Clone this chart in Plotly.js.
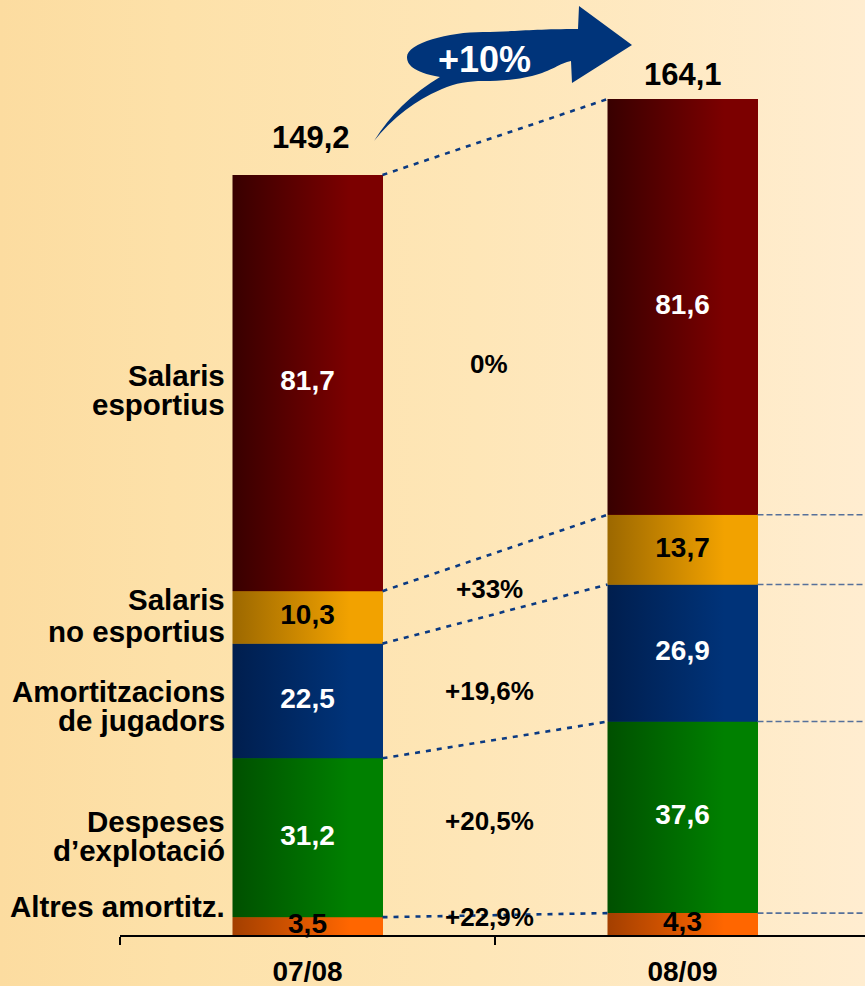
<!DOCTYPE html>
<html>
<head>
<meta charset="utf-8">
<script src="https://cdn.plot.ly/plotly-3.0.1.min.js"></script>
<style>
  html, body { margin: 0; padding: 0; }
  body {
    width: 865px; height: 986px; overflow: hidden;
    background: linear-gradient(to right, #FCDCA0 0%, #FDE1A9 20%, #FEE6B7 55%, #FFEDD0 100%);
  }
  #chart { width: 865px; height: 986px; }
</style>
</head>
<body>
<div id="chart"></div>
<script>
// ---- data ----
const categories = ['07/08', '08/09'];
const altresAmortitz = [3.5, 4.3];
const despesesExplotacio = [31.2, 37.6];
const amortitzacionsJugadors = [22.5, 26.9];
const salarisNoEsportius = [10.3, 13.7];
const salarisEsportius = [81.7, 81.6];
const totals = [149.2, 164.1];
const changeLabels = ['+22,9%', '+20,5%', '+19,6%', '+33%', '0%'];
const growthLabel = '+10%';
const seriesLabelLines = [
  ['Altres amortitz.'],
  ['Despeses', 'd’explotació'],
  ['Amortitzacions', 'de jugadors'],
  ['Salaris', 'no esportius'],
  ['Salaris', 'esportius']
];

// ---- styling ----
const series = [altresAmortitz, despesesExplotacio, amortitzacionsJugadors, salarisNoEsportius, salarisEsportius];
const darkColors = ['#A33F00', '#005000', '#001E4E', '#9C6800', '#380000'];
const brightColors = ['#FF6600', '#008000', '#003379', '#F2A200', '#7C0000'];
const textColors = ['#000000', '#FFFFFF', '#FFFFFF', '#000000', '#FFFFFF'];
const FONT = '"Liberation Sans", Arial, Helvetica, sans-serif';
const W = 0.4;
const xs = [0, 1];
const fmt = v => v.toFixed(1).replace('.', ',');

// cumulative bases/tops
const bases = [], tops = [];
series.forEach((s, k) => {
  bases.push(s.map((v, i) => k === 0 ? 0 : tops[k - 1][i]));
  tops.push(s.map((v, i) => bases[k][i] + v));
});

const traces = [];
// plain stacked bars (base layer)
series.forEach((s, k) => {
  traces.push({
    type: 'bar', x: xs, y: s, width: W, name: seriesLabelLines[k].join(' '),
    marker: { color: brightColors[k], line: { width: 0 } },
    hoverinfo: 'skip', showlegend: false
  });
});
// gradient overlays for each segment
series.forEach((s, k) => {
  xs.forEach(i => {
    const x0 = i - W / 2, x1 = i + W / 2;
    traces.push({
      type: 'scatter', mode: 'lines',
      x: [x0, x1, x1, x0, x0],
      y: [bases[k][i], bases[k][i], tops[k][i], tops[k][i], bases[k][i]],
      line: { width: 0, color: 'rgba(0,0,0,0)' },
      fill: 'toself',
      fillcolor: brightColors[k],
      fillgradient: { type: 'horizontal', colorscale: [[0, darkColors[k]], [0.78, brightColors[k]], [1, brightColors[k]]] },
      hoverinfo: 'skip', showlegend: false
    });
  });
});
// dotted connectors between bars
series.forEach((s, k) => {
  traces.push({
    type: 'scatter', mode: 'lines',
    x: [W / 2, 1 - W / 2], y: [tops[k][0], tops[k][1]],
    line: { color: '#0B3A82', width: 2.6, dash: '5px,6px' },
    hoverinfo: 'skip', showlegend: false
  });
});
// dashed lines to the right of second bar
series.slice(0, 4).forEach((s, k) => {
  traces.push({
    type: 'scatter', mode: 'lines',
    x: [1 + W / 2, 1.7], y: [tops[k][1], tops[k][1]],
    line: { color: '#56709A', width: 1.6, dash: '6px,3px' },
    hoverinfo: 'skip', showlegend: false
  });
});
// segment value labels
const tx = [], ty = [], tt = [], tc = [];
series.forEach((s, k) => {
  xs.forEach(i => {
    tx.push(i); ty.push((bases[k][i] + tops[k][i]) / 2);
    tt.push('<b>' + fmt(s[i]) + '</b>'); tc.push(textColors[k]);
  });
});
traces.push({
  type: 'scatter', mode: 'text', x: tx, y: ty, text: tt,
  textposition: 'middle center',
  textfont: { family: FONT, size: 28, color: tc },
  cliponaxis: false, hoverinfo: 'skip', showlegend: false
});

// ---- annotations ----
const annotations = [];
// totals
const totalShift = [37, 25];
totals.forEach((t, i) => {
  annotations.push({
    x: i, y: t, xref: 'x', yref: 'y', text: '<b>' + fmt(t) + '</b>',
    showarrow: false, yanchor: 'middle', yshift: totalShift[i], xshift: i === 0 ? 3 : 0,
    font: { family: FONT, size: 31, color: '#000000' }
  });
});
// series labels on the left
const labelShifts = [[20], [16, -13], [9, -20], [18, -14], [8, -21]];
seriesLabelLines.forEach((lines, k) => {
  const mid = (bases[k][0] + tops[k][0]) / 2;
  lines.forEach((ln, j) => {
    annotations.push({
      x: (227 - 120) / 745, xref: 'paper', y: mid, yref: 'y',
      text: '<b>' + ln + '</b>', showarrow: false,
      xanchor: 'right', yanchor: 'middle', yshift: labelShifts[k][j],
      font: { family: FONT, size: 29.5, color: '#000000' }
    });
  });
});
// change percentages between the bars
const changeShifts = [8, 7, -14, -5, -19];
changeLabels.forEach((lab, k) => {
  const mid = ((bases[k][0] + tops[k][0]) / 2 + (bases[k][1] + tops[k][1]) / 2) / 2;
  annotations.push({
    x: 0.5, xref: 'x', y: mid, yref: 'y', text: '<b>' + lab + '</b>',
    showarrow: false, xshift: -6, yshift: changeShifts[k], yanchor: 'middle',
    font: { family: FONT, size: 26, color: '#000000' }
  });
});

// growth arrow (decoration) drawn as a path in paper coordinates
const L = 120, PW = 745, PH = 935;
const P = (px, py) => ((px - L) / PW).toFixed(5) + ',' + ((PH - py) / PH).toFixed(5);
const arrowPath =
  'M' + P(374, 141) +
  ' Q' + P(398, 102) + ' ' + P(440, 77) +
  ' C' + P(412, 72) + ' ' + P(407, 64) + ' ' + P(407, 57) +
  ' C' + P(407, 43) + ' ' + P(449, 32) + ' ' + P(483, 32) +
  ' C' + P(510, 32) + ' ' + P(530, 29) + ' ' + P(578, 29) +
  ' L' + P(579, 6) +
  ' L' + P(632, 45) +
  ' L' + P(572, 83) +
  ' L' + P(571, 61) +
  ' C' + P(560, 63) + ' ' + P(552, 71) + ' ' + P(532, 76) +
  ' C' + P(515, 80) + ' ' + P(500, 81) + ' ' + P(483, 81) +
  ' C' + P(470, 81) + ' ' + P(455, 83) + ' ' + P(442, 89) +
  ' Q' + P(402, 106) + ' ' + P(374, 141) + ' Z';

annotations.push({
  x: (484 - L) / PW, y: (PH - 59) / PH, xref: 'paper', yref: 'paper',
  text: '<b>' + growthLabel + '</b>', showarrow: false,
  xanchor: 'center', yanchor: 'middle',
  font: { family: FONT, size: 36, color: '#FFFFFF' }
});

const layout = {
  width: 865, height: 986,
  margin: { l: 120, r: 0, t: 0, b: 51, pad: 0 },
  paper_bgcolor: 'rgba(0,0,0,0)', plot_bgcolor: 'rgba(0,0,0,0)',
  barmode: 'stack', showlegend: false,
  xaxis: {
    type: 'linear', range: [-0.5, -0.5 + 745 / 375], fixedrange: true,
    tickmode: 'array', tickvals: xs, ticktext: categories.map(c => '<b>' + c + '</b>'),
    ticks: '', showgrid: false, zeroline: false,
    showline: true, linecolor: '#000000', linewidth: 2,
    tickfont: { family: FONT, size: 28, color: '#000000' },
    ticklabelstandoff: 10,
    minor: { tickmode: 'array', tickvals: [-0.5, 0.5, 1.5], ticks: 'outside', ticklen: 8, tickwidth: 2, tickcolor: '#000000', showgrid: false }
  },
  yaxis: {
    range: [0, 935 / 5.094], visible: false, fixedrange: true, showgrid: false, zeroline: false
  },
  shapes: [{
    type: 'path', xref: 'paper', yref: 'paper', path: arrowPath,
    fillcolor: '#00347A', line: { width: 0 }, layer: 'above'
  }],
  annotations: annotations
};

Plotly.newPlot('chart', traces, layout, { displayModeBar: false, staticPlot: true });
</script>
</body>
</html>
